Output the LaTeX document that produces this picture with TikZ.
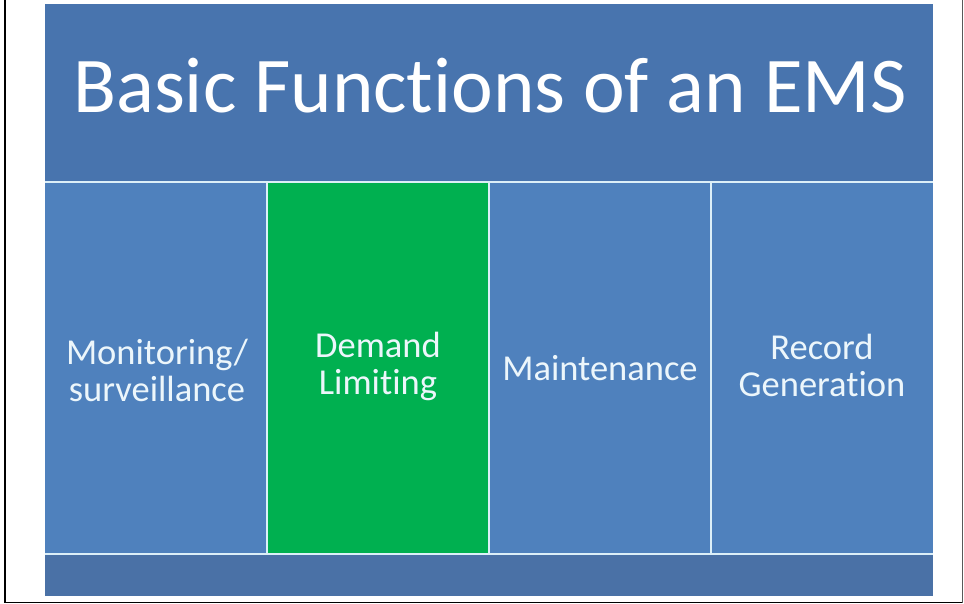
\documentclass[tikz,border=0pt]{standalone}
\usepackage{fontspec}
\setmainfont[Ligatures={NoCommon}]{Carlito}
\definecolor{titlebg}{HTML}{4874AE}
\definecolor{colbg}{HTML}{4F81BD}
\definecolor{greenbg}{HTML}{00B050}
\definecolor{barbg}{HTML}{4A71A6}
\definecolor{sepline}{HTML}{DCEFF8}
\definecolor{coltext}{HTML}{ECF6FB}
\begin{document}
\begin{tikzpicture}[x=1pt,y=-1pt,
  coltxt/.style={text=coltext,font=\fontsize{36.5}{37}\selectfont,align=center,inner sep=0pt},
  titletxt/.style={text=white,font=\fontsize{79}{81}\selectfont,inner sep=0pt,anchor=base}]
\useasboundingbox (0,0) rectangle (964,604);
\fill[white] (0,0) rectangle (964,604);
% outer frame
\draw[black,line width=1.6pt] (5,0) -- (5,602.5) -- (962.5,602.5);
\draw[gray!70!black,line width=1pt] (962.5,602.5) -- (962.5,0);
% slide background (separator colour)
\fill[sepline] (45,4) rectangle (933,596);
% title
\fill[titlebg] (45,4) rectangle (933,181);
\node[titletxt] (title) at (490,113) {Basic Functions of an EMS};
% columns
\fill[colbg] (45,183) rectangle (266,553);
\fill[greenbg] (268,183) rectangle (488,553);
\fill[colbg] (490,183) rectangle (710,553);
\fill[colbg] (712,183) rectangle (933,553);
% bottom bar
\fill[barbg] (45,555) rectangle (933,596);
% column texts
\node[coltxt] (c1) at (157,370) {Monitoring/\\surveillance};
\node[coltxt] (c2) at (378,366) {Demand\\Limiting};
\node[coltxt] (c3) at (600,368) {Maintenance};
\node[coltxt] (c4) at (822,365) {Record\\Generation};
\end{tikzpicture}
\end{document}
